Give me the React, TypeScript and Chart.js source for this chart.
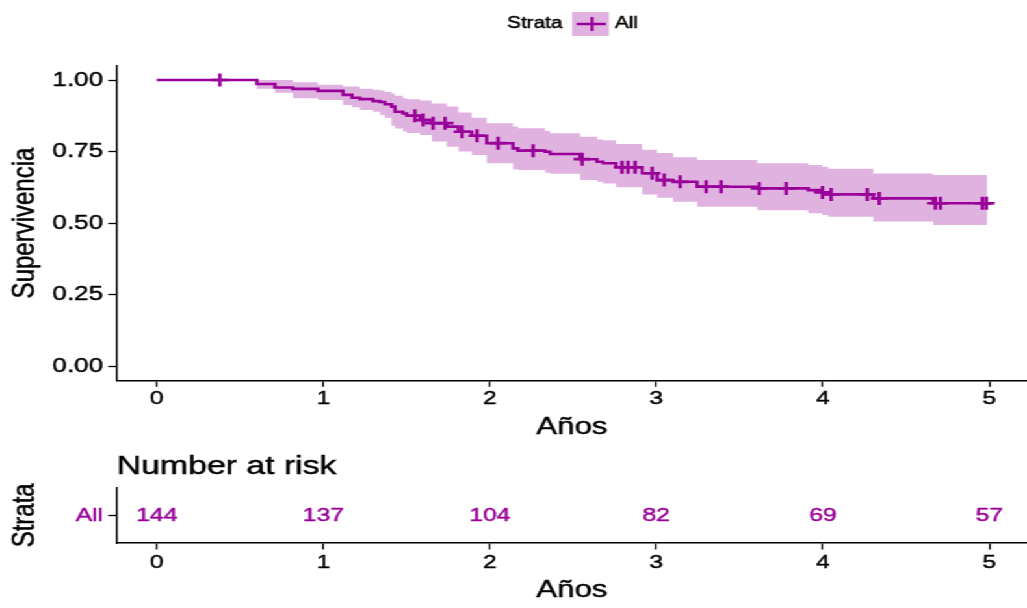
import React, { useEffect, useRef } from 'react';
import { Chart, registerables } from 'chart.js';

Chart.register(...registerables);

// ---- Data ----
const kmTimes = [
  0, 0.601, 0.709, 0.817, 0.968, 1.118, 1.172, 1.22, 1.298, 1.34, 1.37, 1.41, 1.43, 1.478, 1.501,
  1.581, 1.651, 1.741, 1.811, 1.891, 1.981, 2.139, 2.169, 2.332, 2.362, 2.542, 2.644, 2.68, 2.758,
  2.915, 3.005, 3.101, 3.245, 3.606, 3.912, 3.996, 4.032, 4.303, 4.663,
];
const kmSurv = [
  1.0, 0.986, 0.974, 0.969, 0.962, 0.948, 0.938, 0.933, 0.926, 0.923, 0.915, 0.907, 0.889, 0.883, 0.875,
  0.86, 0.849, 0.837, 0.819, 0.805, 0.779, 0.761, 0.753, 0.749, 0.741, 0.723, 0.714, 0.709, 0.695,
  0.674, 0.65, 0.644, 0.627, 0.621, 0.615, 0.607, 0.6, 0.586, 0.569,
];
const kmUpper = [
  1.0, 1.0, 1.0, 0.992, 0.983, 0.977, 0.977, 0.969, 0.966, 0.963, 0.958, 0.953, 0.945, 0.936, 0.933,
  0.928, 0.918, 0.907, 0.886, 0.868, 0.849, 0.837, 0.831, 0.822, 0.814, 0.802, 0.792, 0.789, 0.776,
  0.756, 0.745, 0.73, 0.72, 0.709, 0.703, 0.697, 0.69, 0.673, 0.668,
];
const kmLower = [
  1.0, 0.969, 0.955, 0.936, 0.93, 0.913, 0.905, 0.895, 0.889, 0.878, 0.868, 0.84, 0.83, 0.82, 0.815,
  0.808, 0.785, 0.767, 0.75, 0.738, 0.709, 0.688, 0.685, 0.676, 0.672, 0.65, 0.644, 0.638, 0.625,
  0.6, 0.588, 0.574, 0.557, 0.545, 0.534, 0.528, 0.522, 0.505, 0.493,
];
const censorTimes = [
  0.379, 1.55, 1.599, 1.659, 1.731, 1.833, 1.923, 2.049, 2.26, 2.554, 2.794, 2.83, 2.873, 2.975,
  3.047, 3.143, 3.299, 3.389, 3.618, 3.78, 3.998, 4.05, 4.267, 4.339, 4.676, 4.706, 4.958, 4.982,
];
const lineEnd = 5.018;
const bandEnd = 4.988;

const xTicks = [0, 1, 2, 3, 4, 5];
const yTicks = [0, 0.25, 0.5, 0.75, 1];

const riskTimes = [0, 1, 2, 3, 4, 5];
const riskCounts = [144, 137, 104, 82, 69, 57];

const strataName = 'All';
const legendTitle = 'Strata';
const yTitle = 'Supervivencia';
const xTitle = 'Años';
const riskTitle = 'Number at risk';
const riskYTitle = 'Strata';

// ---- Styles ----
const PURPLE = '#990099';
const BAND = 'rgba(153,0,153,0.3)';
const FONT = "'Liberation Sans', Arial, sans-serif";
const SX = 1.3;
const W = 790;
const TOP_H = 445;
const BOT_H = 163;
const TICK_LEN = 6.5;

function survAt(t: number): number {
  let v = kmSurv[0];
  for (let i = 0; i < kmTimes.length; i++) if (kmTimes[i] <= t) v = kmSurv[i];
  return v;
}

const gridOpts = { drawOnChartArea: false, drawTicks: true, tickLength: TICK_LEN, tickColor: '#000', tickWidth: 1.3, color: '#000' };
const borderOpts = { display: true, color: '#000', width: 1.5 };

// slightly heavier text, like the reference rendering
function txt(ctx: CanvasRenderingContext2D, s: string, x: number, y: number) {
  ctx.fillText(s, x, y);
  ctx.strokeStyle = ctx.fillStyle as string;
  ctx.lineWidth = 0.45;
  ctx.strokeText(s, x, y);
}

// draws the tick labels through the chart's own scales
function drawTickLabels(chart: any, xCenterY: number, yColor: string, yFmt: (v: number) => string, yFont: number) {
  const ctx = chart.ctx;
  const xs = chart.scales.x;
  const ys = chart.scales.y;
  ctx.save();
  ctx.textBaseline = 'middle';
  ctx.fillStyle = '#000';
  ctx.font = `19px ${FONT}`;
  ctx.textAlign = 'center';
  xs.ticks.forEach((t: any) => txt(ctx, String(t.value), xs.getPixelForValue(t.value), xCenterY));
  ctx.fillStyle = yColor;
  ctx.font = `${yFont}px ${FONT}`;
  ctx.textAlign = 'right';
  ys.ticks.forEach((t: any) => txt(ctx, yFmt(t.value), ys.right - TICK_LEN - 4, ys.getPixelForValue(t.value)));
  ctx.restore();
}

export default function App() {
  const topRef = useRef<HTMLCanvasElement>(null);
  const botRef = useRef<HTMLCanvasElement>(null);

  useEffect(() => {
    const upperPts = kmTimes.map((t, i) => ({ x: t, y: kmUpper[i] }));
    upperPts.push({ x: bandEnd, y: kmUpper[kmUpper.length - 1] });
    const lowerPts = kmTimes.map((t, i) => ({ x: t, y: kmLower[i] }));
    lowerPts.push({ x: bandEnd, y: kmLower[kmLower.length - 1] });
    const survPts = kmTimes.map((t, i) => ({ x: t, y: kmSurv[i] }));
    survPts.push({ x: lineEnd, y: kmSurv[kmSurv.length - 1] });
    const censorPts = censorTimes.map((t) => ({ x: t, y: survAt(t) }));

    const topDecor = {
      id: 'topDecor',
      afterDraw(chart: any) {
        const ctx = chart.ctx;
        const ca = chart.chartArea;
        drawTickLabels(chart, 399, '#000', (v) => v.toFixed(2), 20);
        ctx.save();
        ctx.fillStyle = '#000';
        ctx.textBaseline = 'middle';
        ctx.font = `24px ${FONT}`;
        ctx.textAlign = 'center';
        txt(ctx, xTitle, (ca.left + ca.right) / 2, 427);
        ctx.save();
        ctx.translate(19.2, (ca.top + ca.bottom) / 2);
        ctx.rotate(-Math.PI / 2);
        txt(ctx, yTitle, 0, 0);
        ctx.restore();
        // legend
        ctx.font = `16px ${FONT}`;
        ctx.textAlign = 'left';
        ctx.fillStyle = '#000';
        txt(ctx, legendTitle, 390, 24);
        ctx.fillStyle = BAND;
        ctx.fillRect(440, 12, 28.5, 24);
        ctx.strokeStyle = PURPLE;
        ctx.lineWidth = 2.4;
        ctx.beginPath();
        ctx.moveTo(443.5, 24);
        ctx.lineTo(466, 24);
        ctx.moveTo(455.4, 17);
        ctx.lineTo(455.4, 31);
        ctx.stroke();
        ctx.fillStyle = '#000';
        txt(ctx, strataName, 473, 24);
        ctx.restore();
      },
    };

    const top = new Chart(topRef.current as HTMLCanvasElement, {
      type: 'line',
      data: {
        datasets: [
          { label: 'upper', data: upperPts, stepped: 'before', borderWidth: 0, borderColor: 'rgba(0,0,0,0)', pointRadius: 0, fill: '+1', backgroundColor: BAND, order: 2 } as any,
          { label: 'lower', data: lowerPts, stepped: 'before', borderWidth: 0, borderColor: 'rgba(0,0,0,0)', pointRadius: 0, fill: false, order: 3 } as any,
          { label: 'surv', data: survPts, stepped: 'before', borderColor: PURPLE, borderWidth: 2.6, pointRadius: 0, fill: false, order: 1 } as any,
          { label: 'censor', type: 'scatter', data: censorPts, pointStyle: 'cross', pointRadius: 6.5, borderColor: PURPLE, borderWidth: 2.7, showLine: false, order: 0 } as any,
        ],
      },
      options: {
        responsive: false,
        animation: false,
        events: [],
        layout: { autoPadding: false, padding: { top: 65.7, left: 0, right: 0, bottom: 0 } },
        plugins: { legend: { display: false }, tooltip: { enabled: false } },
        scales: {
          x: {
            type: 'linear',
            min: -0.2405,
            max: 5.226,
            afterBuildTicks: (s: any) => { s.ticks = xTicks.map((v) => ({ value: v })); },
            afterFit: (s: any) => { s.height = TOP_H - 380.3; },
            ticks: { display: false },
            grid: gridOpts,
            border: borderOpts,
          },
          y: {
            type: 'linear',
            min: -0.05,
            max: 1.05,
            afterBuildTicks: (s: any) => { s.ticks = yTicks.map((v) => ({ value: v })); },
            afterFit: (s: any) => { s.width = 89.8; },
            ticks: { display: false },
            grid: gridOpts,
            border: borderOpts,
          },
        },
      } as any,
      plugins: [topDecor],
    });

    const botDecor = {
      id: 'botDecor',
      afterDraw(chart: any) {
        const ctx = chart.ctx;
        const ca = chart.chartArea;
        const xs = chart.scales.x;
        const ys = chart.scales.y;
        drawTickLabels(chart, 118, PURPLE, () => strataName, 19);
        ctx.save();
        ctx.textBaseline = 'middle';
        ctx.fillStyle = '#000';
        ctx.font = `26px ${FONT}`;
        ctx.textAlign = 'left';
        txt(ctx, riskTitle, ca.left, 21.5);
        ctx.fillStyle = '#000';
        ctx.font = `24px ${FONT}`;
        ctx.textAlign = 'center';
        txt(ctx, xTitle, (ca.left + ca.right) / 2, 145);
        ctx.save();
        ctx.translate(19.8, (ca.top + ca.bottom) / 2);
        ctx.rotate(-Math.PI / 2);
        txt(ctx, riskYTitle, 0, 0);
        ctx.restore();
        ctx.fillStyle = PURPLE;
        ctx.font = `19px ${FONT}`;
        const yy = ys.getPixelForValue(1);
        riskTimes.forEach((t, i) => {
          txt(ctx, String(riskCounts[i]), xs.getPixelForValue(t), yy);
        });
        ctx.restore();
      },
    };

    const bot = new Chart(botRef.current as HTMLCanvasElement, {
      type: 'scatter',
      data: { datasets: [{ data: riskTimes.map((t) => ({ x: t, y: 1 })), pointRadius: 0 }] },
      options: {
        responsive: false,
        animation: false,
        events: [],
        layout: { autoPadding: false, padding: { top: 42.7, left: 0, right: 0, bottom: 0 } },
        plugins: { legend: { display: false }, tooltip: { enabled: false } },
        scales: {
          x: {
            type: 'linear',
            min: -0.2405,
            max: 5.226,
            afterBuildTicks: (s: any) => { s.ticks = xTicks.map((v) => ({ value: v })); },
            afterFit: (s: any) => { s.height = BOT_H - 98; },
            ticks: { display: false },
            grid: gridOpts,
            border: borderOpts,
          },
          y: {
            type: 'linear',
            min: 0,
            max: 2,
            afterBuildTicks: (s: any) => { s.ticks = [{ value: 1 }]; },
            afterFit: (s: any) => { s.width = 89.8; },
            ticks: { display: false },
            grid: gridOpts,
            border: borderOpts,
          },
        },
      } as any,
      plugins: [botDecor],
    });

    return () => {
      top.destroy();
      bot.destroy();
    };
  }, []);

  return (
    <div style={{ position: 'absolute', left: 0, top: 0, width: 1027, height: 608, overflow: 'hidden', background: '#fff' }}>
      <div style={{ width: W, height: TOP_H + BOT_H, transform: `scaleX(${SX})`, transformOrigin: '0 0' }}>
        <canvas ref={topRef} width={W} height={TOP_H} style={{ display: 'block', width: W, height: TOP_H }} />
        <canvas ref={botRef} width={W} height={BOT_H} style={{ display: 'block', width: W, height: BOT_H }} />
      </div>
    </div>
  );
}
